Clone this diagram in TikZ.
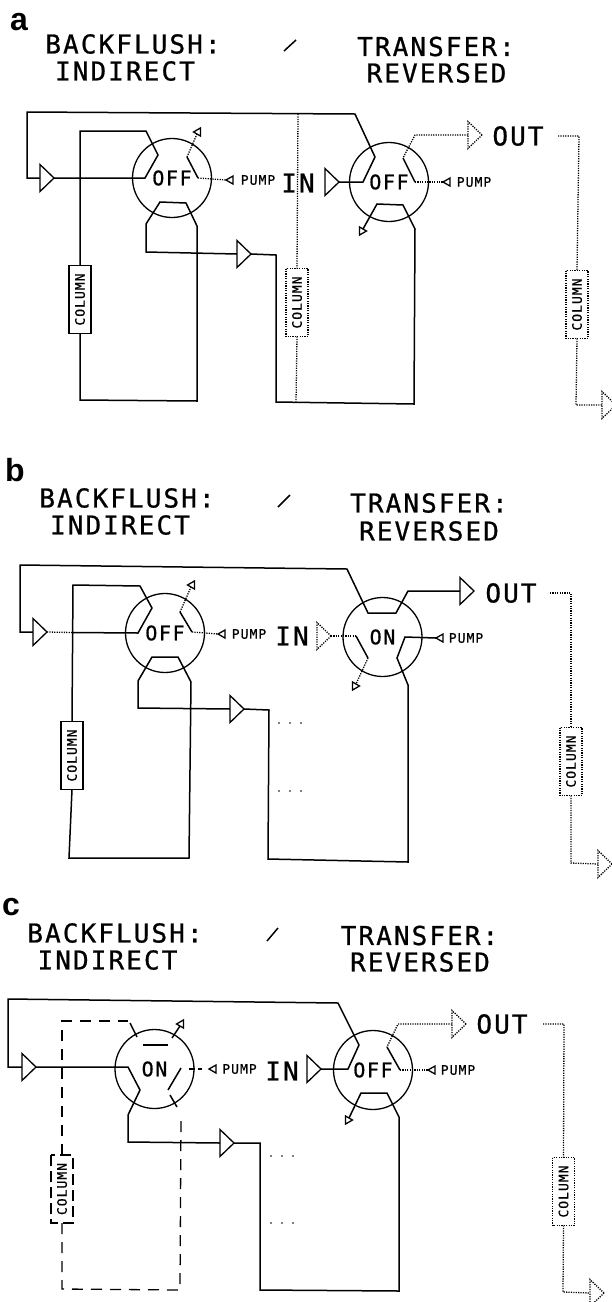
\documentclass[tikz,border=0pt]{standalone}
\usepackage{fontspec}
\usetikzlibrary{shapes.geometric}
\newfontfamily\plotfont{DejaVu Sans Mono}[LetterSpace=8, FakeBold=0.8]
\newfontfamily\tagfont{Liberation Sans}
\tikzset{
  pipe/.style={line width=1.5pt, line join=miter},
  idle/.style={line width=1.3pt, dash pattern=on 1.2pt off 1.2pt},
  gone/.style={line width=1.3pt, dash pattern=on 11pt off 8pt},
  valve/.style={circle, draw, line width=1.3pt, minimum size=79pt, inner sep=0pt, outer sep=0pt,
                font=\plotfont\fontsize{20}{20}\selectfont},
  column/.style={draw, line width=1.5pt, rotate=90, minimum width=68pt, minimum height=22pt,
                 inner sep=0pt, outer sep=0pt, font=\plotfont\fontsize{13}{13}\selectfont},
  trap/.style={isosceles triangle, isosceles triangle stretches, draw, line width=1.3pt,
               minimum height=14pt, minimum width=27pt, inner sep=0pt, outer sep=0pt, anchor=lower side},
  vent/.style={isosceles triangle, isosceles triangle stretches, draw, line width=1.3pt,
               minimum height=7pt, minimum width=8pt, inner sep=0pt, outer sep=0pt, anchor=lower side},
  head/.style={inner sep=0pt, font=\plotfont\fontsize{26}{26}\selectfont},
  note/.style={inner sep=0pt, font=\plotfont\fontsize{13}{13}\selectfont},
  tag/.style={inner sep=0pt, font=\tagfont\bfseries\fontsize{32}{32}\selectfont},
  dot/.style={circle, fill, inner sep=0pt, minimum size=1.6pt},
}
\begin{document}
\begin{tikzpicture}[x=1pt, y=-1pt]
\useasboundingbox (0,0) rectangle (612,1302);

% --- a: both valves off ---
\node[tag] (taga) at (19,22) {a};
\node[head] (heada1) at (133,44) {BACKFLUSH:};
\node[head] (heada2) at (125,71) {INDIRECT};
\node[head] (heada3) at (436,46.5) {TRANSFER:};
\node[head] (heada4) at (436.5,73) {REVERSED};
\coordinate (slasha1) at (284,51);
\coordinate (slasha2) at (296,40);
\draw[pipe] (slasha1) -- (slasha2);

\node[valve] (valvea1) at (172,178) {OFF};
\node[valve] (valvea2) at (389,182) {OFF};
\node[head] (ina) at (298,183) {IN};
\node[head] (outa) at (518,136) {OUT};
\node[note] (pumpa1) at (258,180) {PUMP};
\node[note] (pumpa2) at (474,182) {PUMP};

\node[column] (cola1) at (80,299.5) {COLUMN};
\node[column, idle] (cola2) at (297,302.5) {COLUMN};
\node[column, idle] (cola3) at (577,304.5) {COLUMN};

\node[trap] (trapa1) at (40,178) {};
\node[trap] (trapa2) at (237,254) {};
\node[trap] (trapa3) at (325,182) {};
\node[trap, idle] (trapa4) at (468,135) {};
\node[trap, idle] (trapa5) at (602,405) {};
\node[vent, rotate=60] (venta1) at (197,134) {};
\node[vent, rotate=240] (venta2) at (363,229) {};
\node[vent, rotate=180] (venta3) at (233,180) {};
\node[vent, rotate=180] (venta4) at (450,182) {};

\draw[pipe] (trapa3.apex) -- (363,182) -- (375,157) -- (355,114) -- (27,112) -- (27,178) -- (trapa1.lower side);
\draw[pipe] (trapa1.apex) -- (145,178) -- (158,155) -- (146,131) -- (80,131) -- (cola1.east);
\draw[pipe] (cola1.west) -- (80,400) -- (197,401) -- (197,226) -- (186,203) -- (160,202) -- (146,224) -- (146,252) -- (trapa2.lower side);
\draw[pipe] (trapa2.apex) -- (276,255) -- (276,402) -- (414,404) -- (415,229) -- (403,205) -- (377,204) -- (venta2.lower side);
\draw[idle] (187,157) -- (venta1.lower side);
\draw[pipe] (187,157) -- (198,178);
\draw[idle] (198,178) -- (venta3.apex);
\draw[idle] (298,114) -- (cola2.east);
\draw[idle] (cola2.west) -- (296,403);
\draw[idle] (trapa4.lower side) -- (415,135) -- (403,158);
\draw[pipe] (403,158) -- (415,182);
\draw[idle] (415,182) -- (venta4.apex);
\draw[idle] (558,136) -- (579,136) -- (cola3.east);
\draw[idle] (cola3.west) -- (576,405) -- (trapa5.lower side);

% --- b: transfer valve on ---
\node[tag] (tagb) at (15,470) {b};
\node[head] (headb1) at (127,498) {BACKFLUSH:};
\node[head] (headb2) at (120,525) {INDIRECT};
\node[head] (headb3) at (429,503) {TRANSFER:};
\node[head] (headb4) at (429,531) {REVERSED};
\coordinate (slashb1) at (278,507);
\coordinate (slashb2) at (290,495);
\draw[pipe] (slashb1) -- (slashb2);

\node[valve] (valveb1) at (165,633) {OFF};
\node[valve] (valveb2) at (382.5,637) {ON};
\node[head] (inb) at (292,636) {IN};
\node[head] (outb) at (511,593) {OUT};
\node[note] (pumpb1) at (249,634) {PUMP};
\node[note] (pumpb2) at (466,638) {PUMP};

\node[column] (colb1) at (72,755.5) {COLUMN};
\node[column, idle] (colb2) at (571,761.5) {COLUMN};

\node[trap] (trapb1) at (33,632) {};
\node[trap] (trapb2) at (230,709) {};
\node[trap, idle] (trapb3) at (317,636) {};
\node[trap] (trapb4) at (460,591) {};
\node[trap, idle] (trapb5) at (598,864) {};
\node[vent, rotate=60] (ventb1) at (191,587) {};
\node[vent, rotate=240] (ventb2) at (356,684) {};
\node[vent, rotate=180] (ventb3) at (225,634) {};
\node[vent, rotate=180] (ventb4) at (443,638) {};

\draw[pipe] (trapb4.lower side) -- (408,591) -- (396,613) -- (368,613) -- (347,569) -- (20,565) -- (20,632) -- (trapb1.lower side);
\draw[idle] (trapb1.apex) -- (72,632.5);
\draw[pipe] (72,632.5) -- (138,633) -- (152,608) -- (140,586) -- (73,585) -- (colb1.east);
\draw[pipe] (colb1.west) -- (69,858) -- (189,858) -- (191,682) -- (178,657) -- (152,657) -- (138,681) -- (138,708) -- (trapb2.lower side);
\draw[pipe] (trapb2.apex) -- (269,710) -- (268,859) -- (408,862) -- (408,685) -- (397,658) -- (405,637) -- (ventb4.apex);
\draw[idle] (180,612) -- (ventb1.lower side);
\draw[pipe] (180,612) -- (192,632);
\draw[idle] (192,632) -- (ventb3.apex);
\draw[idle] (trapb3.apex) -- (356,636);
\draw[pipe] (356,636) -- (368,658);
\draw[idle] (368,658) -- (ventb2.lower side);
\draw[idle] (550,593) -- (571,593) -- (colb2.east);
\draw[idle] (colb2.west) -- (571,863) -- (trapb5.lower side);
\foreach \yy in {723,791}
  \foreach \xx in {279,290,301}
    \node[dot] (dotb\xx\yy) at (\xx,\yy) {};

% --- c: backflush valve on ---
\node[tag] (tagc) at (11,907) {c};
\node[head] (headc1) at (115,933) {BACKFLUSH:};
\node[head] (headc2) at (107.5,960) {INDIRECT};
\node[head] (headc3) at (419.5,935.5) {TRANSFER:};
\node[head] (headc4) at (420,962) {REVERSED};
\coordinate (slashc1) at (267,941);
\coordinate (slashc2) at (278,928);
\draw[pipe] (slashc1) -- (slashc2);

\node[valve] (valvec1) at (154.5,1069) {ON};
\node[valve] (valvec2) at (373,1070) {OFF};
\node[head] (inc) at (282,1071) {IN};
\node[head] (outc) at (502,1024) {OUT};
\node[note] (pumpc1) at (239.5,1069) {PUMP};
\node[note] (pumpc2) at (458,1070) {PUMP};

\node[column, dash pattern=on 11pt off 5pt, line width=1.3pt] (colc1) at (62,1189) {COLUMN};
\node[column, idle] (colc2) at (563.5,1191.5) {COLUMN};

\node[trap] (trapc1) at (22,1067) {};
\node[trap] (trapc2) at (220,1143) {};
\node[trap] (trapc3) at (307,1069) {};
\node[trap, idle] (trapc4) at (452,1024) {};
\node[trap, idle] (trapc5) at (590,1293) {};
\node[vent, rotate=60] (ventc1) at (180,1026) {};
\node[vent, rotate=240] (ventc2) at (349,1118) {};
\node[vent, rotate=180] (ventc3) at (216,1069) {};
\node[vent, rotate=180] (ventc4) at (435,1070) {};

\draw[pipe] (trapc3.apex) -- (348,1069) -- (359,1045) -- (338,1003) -- (8,999) -- (8,1067) -- (trapc1.lower side);
\draw[pipe] (trapc1.apex) -- (128,1067) -- (140,1090) -- (128,1115) -- (128,1142) -- (trapc2.lower side);
\draw[pipe] (trapc2.apex) -- (260,1143) -- (260,1290) -- (399,1291) -- (399,1117) -- (387,1093) -- (361,1093) -- (ventc2.lower side);
\draw[pipe] (172,1038) -- (ventc1.lower side);
\draw[pipe] (143,1045) -- (168,1045);
\draw[pipe] (168,1090) -- (181,1068);
\draw[pipe] (170,1095) -- (177,1107);
\draw[pipe] (130,1023) -- (137,1037);
\draw[gone] (colc1.east) -- (62,1021) -- (128,1021);
\draw[gone] (colc1.west) -- (62,1289) -- (180,1290) -- (181,1115);
\draw[pipe] (189,1069) -- (195,1069);
\draw[pipe] (198,1069) -- (202,1069);
\draw[idle] (trapc4.lower side) -- (398,1024) -- (387,1047);
\draw[pipe] (387,1047) -- (400,1070);
\draw[idle] (400,1070) -- (ventc4.apex);
\draw[idle] (543,1024) -- (564,1024) -- (colc2.east);
\draw[idle] (colc2.west) -- (563,1292) -- (trapc5.lower side);
\foreach \yy in {1156,1223}
  \foreach \xx in {271,282,293}
    \node[dot] (dotc\xx\yy) at (\xx,\yy) {};

\end{tikzpicture}
\end{document}
